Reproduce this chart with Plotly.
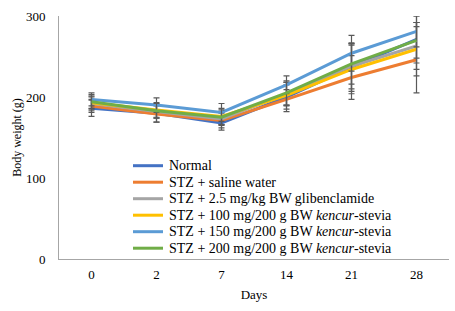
import plotly.graph_objects as go

days = ["0", "2", "7", "14", "21", "28"]

series_names = [
    "Normal",
    "STZ + saline water",
    "STZ + 2.5 mg/kg BW glibenclamide",
    "STZ + 100 mg/200 g BW <i>kencur</i>-stevia",
    "STZ + 150 mg/200 g BW <i>kencur</i>-stevia",
    "STZ + 200 mg/200 g BW <i>kencur</i>-stevia",
]
normal = [186, 180, 168, 200, 237, 271]
saline = [189, 179, 171, 197, 224, 246]
glib = [192, 182, 173, 204, 238, 263]
k100 = [193, 184, 176, 202, 234, 259]
k150 = [197, 190, 181, 215, 254, 281]
k200 = [194, 183, 175, 205, 241, 270]

err_normal = [10, 11, 9, 18, 30, 29]
err_saline = [8, 10, 9, 12, 27, 41]
err_glib = [9, 8, 8, 14, 28, 29]
err_k100 = [7, 9, 10, 13, 30, 33]
err_k150 = [8, 9, 11, 11, 22, 19]
err_k200 = [9, 9, 9, 15, 25, 22]

colors = ["#4472C4", "#ED7D31", "#A5A5A5", "#FFC000", "#5B9BD5", "#70AD47"]
values = [normal, saline, glib, k100, k150, k200]
errors = [err_normal, err_saline, err_glib, err_k100, err_k150, err_k200]

W, H = 455, 311
ML, MR, MT, MB = 59, 6, 16, 52
PW, PH = W - ML - MR, H - MT - MB

fig = go.Figure()
for name, vals, errs, col in zip(series_names, values, errors, colors):
    fig.add_trace(go.Scatter(
        x=days, y=vals, name=name, mode="lines",
        line=dict(color=col, width=3),
        error_y=dict(type="data", array=errs, visible=True,
                     color="#595959", thickness=1.2, width=3),
        showlegend=False,
    ))

font_family = "Liberation Serif, Times New Roman, serif"

# custom legend (in-plot, tight spacing like the reference)
leg_x0, leg_x1, txt_x = 133, 163, 167
leg_y0, leg_dy = 165.7, 16.5
shapes, annotations = [], []
for i, (name, col) in enumerate(zip(series_names, colors)):
    py = leg_y0 + i * leg_dy
    yp = (H - MB - py) / PH
    shapes.append(dict(type="line", xref="paper", yref="paper",
                       x0=(leg_x0 - ML) / PW, x1=(leg_x1 - ML) / PW,
                       y0=yp, y1=yp, line=dict(color=col, width=3)))
    annotations.append(dict(xref="paper", yref="paper",
                            x=(txt_x - ML) / PW, y=yp,
                            xanchor="left", yanchor="middle",
                            text=name, showarrow=False,
                            font=dict(size=14, family=font_family, color="#000")))

fig.update_layout(
    width=W, height=H,
    margin=dict(l=ML, r=MR, t=MT, b=MB),
    paper_bgcolor="white", plot_bgcolor="white",
    font=dict(family=font_family, size=13, color="#000000"),
    showlegend=False,
    shapes=shapes, annotations=annotations,
    xaxis=dict(
        type="category", range=[-0.5, 5.5],
        showgrid=False, showline=True, linecolor="#A6A6A6", linewidth=1,
        ticks="", tickfont=dict(size=13), ticklabelstandoff=3,
        title=dict(text="Days", font=dict(size=13), standoff=9),
    ),
    yaxis=dict(
        range=[0, 300], dtick=100, showgrid=False,
        showline=True, linecolor="#A6A6A6", linewidth=1,
        ticks="", tickfont=dict(size=13), zeroline=False, ticklabelstandoff=10,
        title=dict(text="Body weight (g)", font=dict(size=12), standoff=1),
    ),
)

fig.write_html("out.html")
